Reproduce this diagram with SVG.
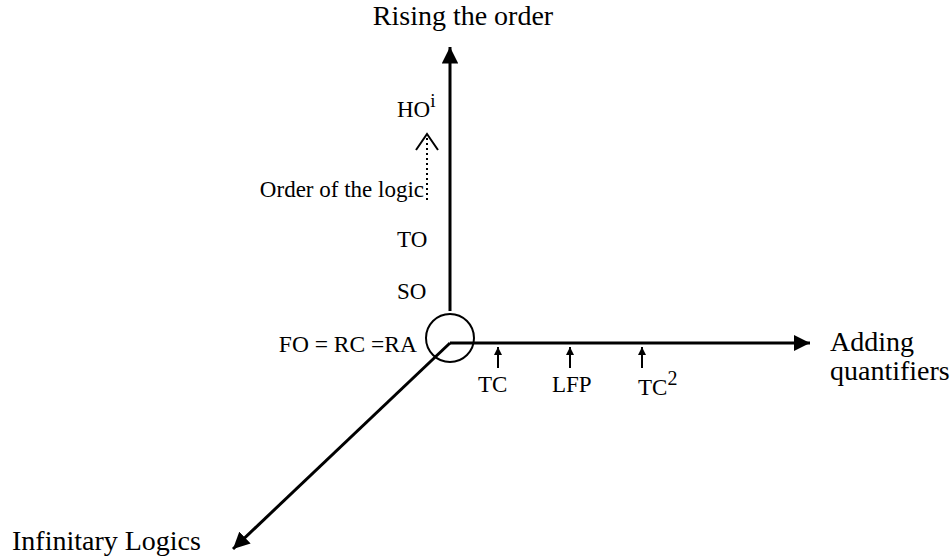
<svg xmlns="http://www.w3.org/2000/svg" width="952" height="559" viewBox="0 0 952 559">
<style>
text{font-family:"Liberation Serif","Times New Roman",serif;fill:#000}
.big{font-size:28px}
.mid{font-size:23px}
.ax{stroke:#000;stroke-width:3;fill:none}
.tk{stroke:#000;stroke-width:2;fill:none}
</style>
<defs>
<marker id="ah" viewBox="0 0 10 10" refX="10" refY="5" markerWidth="5.5" markerHeight="5.5" orient="auto" markerUnits="strokeWidth"><path d="M0,0 L10,5 L0,10 z" fill="#000"/></marker>
<marker id="sa" viewBox="0 0 10 10" refX="10" refY="5" markerWidth="4" markerHeight="4" orient="auto" markerUnits="strokeWidth"><path d="M0,0 L10,5 L0,10 z" fill="#000"/></marker>
</defs>
<g id="connectors">
<line class="ax" x1="450" y1="311" x2="450" y2="47" marker-end="url(#ah)"/>
<line class="ax" x1="450" y1="343" x2="810" y2="343" marker-end="url(#ah)"/>
<line class="ax" x1="450" y1="343" x2="233" y2="549" marker-end="url(#ah)"/>
<line x1="427" y1="200" x2="427" y2="136" stroke="#000" stroke-width="2" stroke-dasharray="2,3"/>
<polyline class="tk" points="416,150 427,134 438,150"/>
<line class="tk" x1="498" y1="368" x2="498" y2="347" marker-end="url(#sa)"/>
<line class="tk" x1="570" y1="368" x2="570" y2="347" marker-end="url(#sa)"/>
<line class="tk" x1="642" y1="368" x2="642" y2="347" marker-end="url(#sa)"/>
</g>
<g id="origin">
<circle cx="450" cy="338" r="24" stroke="#000" stroke-width="2" fill="none"/>
<text font-size="23.5" x="417" y="352" text-anchor="end">FO = RC =RA</text>
</g>
<g id="rising"><text class="big" x="463" y="25" text-anchor="middle">Rising the order</text></g>
<g id="adding"><text class="big" x="830" y="351">Adding</text><text class="big" x="830" y="380">quantifiers</text></g>
<g id="infinitary"><text class="big" x="12" y="550">Infinitary Logics</text></g>
<g id="ho"><text class="mid" x="397" y="117">HO<tspan font-size="19" dy="-10">i</tspan></text></g>
<g id="order"><text class="mid" x="424" y="197" text-anchor="end">Order of the logic</text></g>
<g id="to"><text class="mid" x="397" y="247">TO</text></g>
<g id="so"><text class="mid" x="397" y="299">SO</text></g>
<g id="tc"><text class="mid" x="478" y="392">TC</text></g>
<g id="lfp"><text class="mid" x="552" y="392">LFP</text></g>
<g id="tc2"><text class="mid" x="638" y="395">TC<tspan font-size="20" dy="-10">2</tspan></text></g>
</svg>
